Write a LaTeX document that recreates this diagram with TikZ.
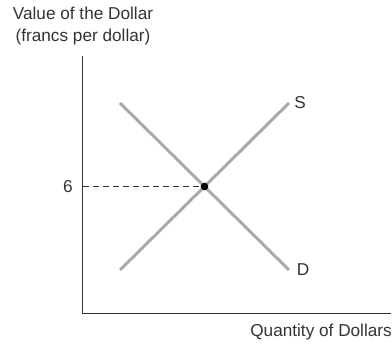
\documentclass[tikz,border=0pt]{standalone}
\usepackage{fontspec}
\setmainfont{Liberation Sans}
\usetikzlibrary{positioning,calc}
\definecolor{Curve}{HTML}{AAAAAA}
\definecolor{Ink}{HTML}{333333}

\begin{document}
\begin{tikzpicture}[x=1pt,y=1pt,font=\fontsize{17.2}{20}\selectfont,text=Ink]
    \useasboundingbox (-83,-30) rectangle (309,314);
    % axes
    \coordinate (o) at (0,0);
    \coordinate (ytop) at (0,258);
    \coordinate (xend) at (308,0);
    \draw[Ink,line width=1pt] (ytop) -- (o) -- (xend);
    \node[align=center,inner sep=0pt] (ylab) at (0,288) {Value of the Dollar\\[2pt](francs per dollar)};
    \node[anchor=east,inner sep=0pt] (xlab) at (309,-18) {Quantity of Dollars};
    % supply and demand
    \foreach \name/\a/\b/\label/\dx in {s/37/44/S/11,d/37/211/D/14}{
      \coordinate (\name1) at (\a,\b);
      \coordinate (\name2) at (206,255-\b);
      \draw[Curve,line width=3pt] (\name1) -- (\name2);
      \node (\name lab) at ($(\name2)+(\dx,0)$) {\label};
    }
    \coordinate (eq) at (intersection of s1--s2 and d1--d2);
    \draw[Ink,dashed,line width=1pt,dash pattern=on 6pt off 4pt] (o |- eq) -- (eq);
    \fill[black] (eq) circle (3.8pt);
    \node (six) at (-15,127.5) {6};
\end{tikzpicture}
\end{document}
